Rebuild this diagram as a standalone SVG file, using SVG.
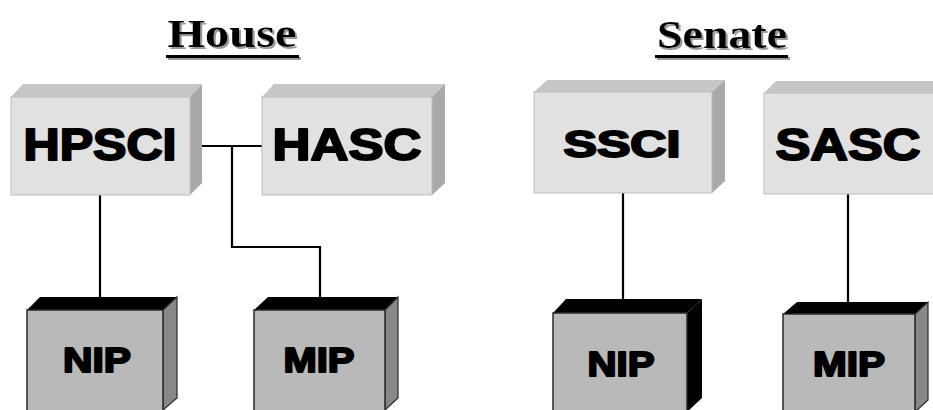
<svg xmlns="http://www.w3.org/2000/svg" width="933" height="410" viewBox="0 0 933 410">
<defs>
<filter id="shadow" x="-10%" y="-20%" width="120%" height="150%">
<feOffset in="SourceAlpha" dx="2" dy="2" result="off"/>
<feFlood flood-color="#9a9a9a"/>
<feComposite in2="off" operator="in" result="sh"/>
<feMerge><feMergeNode in="sh"/><feMergeNode in="SourceGraphic"/></feMerge>
</filter>
</defs>
<style>
.title{font-family:"Liberation Serif","Times New Roman",serif;font-weight:bold;font-size:40px;text-anchor:middle;fill:#000}
.lbl{font-family:"Liberation Sans",Arial,sans-serif;font-weight:bold;fill:#000;stroke:#000;stroke-width:2;stroke-linejoin:round;text-anchor:middle}
.front{fill:#e1e1e1;stroke:#bdbdbd;stroke-width:1}
.top{fill:#c6c6c6}
.side{fill:#a9a9a9}
.bfront{fill:#b9b9b9;stroke:#2a2a2a;stroke-width:1.5}
.btop{fill:#000}
.bside{fill:#888;stroke:#2a2a2a;stroke-width:1.2}
.bsideblk{fill:#000}
.wire{fill:none;stroke:#000;stroke-width:2.2}
</style>
<g id="title-house" filter="url(#shadow)">
<text class="title" x="232" y="47" textLength="129" lengthAdjust="spacingAndGlyphs">House</text>
<rect x="166" y="55" width="133" height="3" fill="#000"/>
</g>
<g id="title-senate" filter="url(#shadow)">
<text class="title" x="722" y="48" textLength="130" lengthAdjust="spacingAndGlyphs">Senate</text>
<rect x="655" y="55" width="133" height="3" fill="#000"/>
</g>
<g id="connectors">
<line class="wire" x1="190" y1="146" x2="262" y2="146"/>
<polyline class="wire" points="232,146 232,247 320,247 320,297"/>
<line class="wire" x1="100" y1="195" x2="100" y2="297"/>
<line class="wire" x1="623" y1="193" x2="623" y2="299"/>
<line class="wire" x1="848" y1="194" x2="848" y2="302"/>
</g>
<g id="hpsci">
<polygon class="top" points="11,97 23,84 202,84 190,97"/>
<polygon class="side" points="190,97 202,84 202,183 190,195"/>
<rect class="front" x="11" y="97" width="179" height="98"/>
<text class="lbl" x="100" y="160" font-size="44" textLength="153" lengthAdjust="spacingAndGlyphs">HPSCI</text>
</g>
<g id="hasc">
<polygon class="top" points="262,97 274,84 445,84 432,97"/>
<polygon class="side" points="432,97 445,84 445,183 432,195"/>
<rect class="front" x="262" y="97" width="170" height="98"/>
<text class="lbl" x="347" y="160" font-size="44" textLength="149" lengthAdjust="spacingAndGlyphs">HASC</text>
</g>
<g id="ssci">
<polygon class="top" points="534,92 547,80 725,80 712,92"/>
<polygon class="side" points="712,92 725,80 725,181 712,193"/>
<rect class="front" x="534" y="92" width="178" height="101"/>
<text class="lbl" x="622" y="157" font-size="36" textLength="117" lengthAdjust="spacingAndGlyphs">SSCI</text>
</g>
<g id="sasc">
<polygon class="top" points="764,93 776,81 950,81 940,93"/>
<rect class="front" x="764" y="93" width="180" height="101"/>
<text class="lbl" x="848" y="160" font-size="44" textLength="145" lengthAdjust="spacingAndGlyphs">SASC</text>
</g>
<g id="house-nip">
<polygon class="btop" points="27,310 40,297 177,297 163,310"/>
<polygon class="bside" points="163,310 177,297 177,398 163,410"/>
<rect class="bfront" x="27" y="310" width="136" height="105"/>
<text class="lbl" x="97" y="372" font-size="35" textLength="68" lengthAdjust="spacingAndGlyphs">NIP</text>
</g>
<g id="house-mip">
<polygon class="btop" points="254,310 268,297 398,297 385,310"/>
<polygon class="bside" points="385,310 398,297 398,398 385,410"/>
<rect class="bfront" x="254" y="310" width="131" height="105"/>
<text class="lbl" x="319" y="372" font-size="35" textLength="71" lengthAdjust="spacingAndGlyphs">MIP</text>
</g>
<g id="senate-nip">
<polygon class="btop" points="553,313 566,299 702,299 687,313"/>
<polygon class="bsideblk" points="687,313 702,299 702,398 687,412"/>
<rect class="bfront" x="553" y="313" width="134" height="102"/>
<text class="lbl" x="621" y="376" font-size="35" textLength="67" lengthAdjust="spacingAndGlyphs">NIP</text>
</g>
<g id="senate-mip">
<polygon class="btop" points="783,314 797,302 928,302 915,314"/>
<polygon class="bside" points="915,314 928,302 928,400 915,412"/>
<rect class="bfront" x="783" y="314" width="132" height="101"/>
<text class="lbl" x="849" y="376" font-size="35" textLength="72" lengthAdjust="spacingAndGlyphs">MIP</text>
</g>
</svg>
